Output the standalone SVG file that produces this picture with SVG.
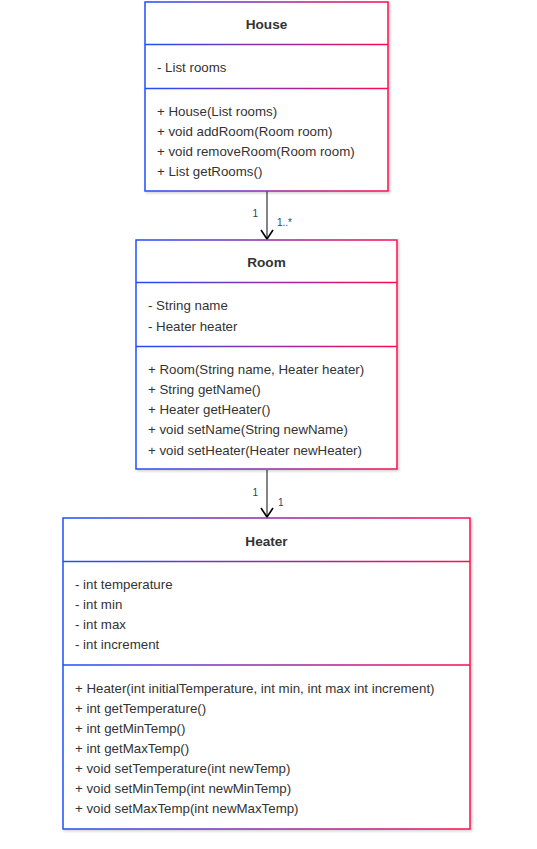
<svg xmlns="http://www.w3.org/2000/svg" width="537" height="849" viewBox="0 0 537 849">
<defs>
<linearGradient id="gHouse" gradientUnits="userSpaceOnUse" x1="145" y1="0" x2="388" y2="0">
<stop offset="0" stop-color="#1e4fff"/><stop offset="1" stop-color="#ff0a50"/>
</linearGradient>
<linearGradient id="gRoom" gradientUnits="userSpaceOnUse" x1="136" y1="0" x2="397" y2="0">
<stop offset="0" stop-color="#1e4fff"/><stop offset="1" stop-color="#ff0a50"/>
</linearGradient>
<linearGradient id="gHeater" gradientUnits="userSpaceOnUse" x1="63" y1="0" x2="470" y2="0">
<stop offset="0" stop-color="#1e4fff"/><stop offset="1" stop-color="#ff0a50"/>
</linearGradient>
<filter id="sh" x="-5%" y="-5%" width="110%" height="110%">
<feDropShadow dx="1.5" dy="1.5" stdDeviation="1.2" flood-color="#000" flood-opacity="0.18"/>
</filter>
<marker id="open" markerWidth="14" markerHeight="14" refX="10" refY="7" orient="auto" markerUnits="userSpaceOnUse" viewBox="0 0 14 14">
<path d="M1,1 L10,7 L1,13" fill="none" stroke="#000" stroke-width="1.6"/>
</marker>
<style>
text{font-family:"Liberation Sans",Arial,Helvetica,sans-serif;font-size:13.3px;fill:#333333}
.t{font-weight:bold;text-anchor:middle;font-size:13.6px}
.lbl{font-size:10px;fill:#2a3f6a}
.box{fill:#ffffff;stroke-width:1.5}
.conn{stroke:#333333;stroke-width:1.2;fill:none}
</style>
</defs>
<rect width="537" height="849" fill="#ffffff"/>

<g id="connectors">
<line class="conn" x1="267" y1="191" x2="267" y2="239" marker-end="url(#open)"/>
<text class="lbl" x="258" y="217" text-anchor="end">1</text>
<text class="lbl" x="277" y="226">1..*</text>
<line class="conn" x1="267" y1="470" x2="267" y2="517" marker-end="url(#open)"/>
<text class="lbl" x="258" y="496" text-anchor="end">1</text>
<text class="lbl" x="278" y="506">1</text>
</g>

<g id="House">
<rect class="box" x="145" y="2" width="243" height="189" stroke="url(#gHouse)" filter="url(#sh)"/>
<line x1="145" y1="44.5" x2="388" y2="44.5" stroke="url(#gHouse)" stroke-width="1.5"/>
<line x1="145" y1="88.5" x2="388" y2="88.5" stroke="url(#gHouse)" stroke-width="1.5"/>
<text class="t" x="266.5" y="29">House</text>
<text x="157" y="72">- List rooms</text>
<text x="157" y="116">+ House(List rooms)</text>
<text x="157" y="136">+ void addRoom(Room room)</text>
<text x="157" y="156">+ void removeRoom(Room room)</text>
<text x="157" y="176">+ List getRooms()</text>
</g>

<g id="Room">
<rect class="box" x="136" y="240" width="261" height="229" stroke="url(#gRoom)" filter="url(#sh)"/>
<line x1="136" y1="282.5" x2="397" y2="282.5" stroke="url(#gRoom)" stroke-width="1.5"/>
<line x1="136" y1="346.5" x2="397" y2="346.5" stroke="url(#gRoom)" stroke-width="1.5"/>
<text class="t" x="266.5" y="267">Room</text>
<text x="148" y="310">- String name</text>
<text x="148" y="331">- Heater heater</text>
<text x="148" y="374">+ Room(String name, Heater heater)</text>
<text x="148" y="394">+ String getName()</text>
<text x="148" y="414">+ Heater getHeater()</text>
<text x="148" y="434">+ void setName(String newName)</text>
<text x="148" y="455">+ void setHeater(Heater newHeater)</text>
</g>

<g id="Heater">
<rect class="box" x="63" y="518" width="407" height="311" stroke="url(#gHeater)" filter="url(#sh)"/>
<line x1="63" y1="561.5" x2="470" y2="561.5" stroke="url(#gHeater)" stroke-width="1.5"/>
<line x1="63" y1="665" x2="470" y2="665" stroke="url(#gHeater)" stroke-width="1.5"/>
<text class="t" x="266.5" y="546">Heater</text>
<text x="75" y="589">- int temperature</text>
<text x="75" y="609">- int min</text>
<text x="75" y="629">- int max</text>
<text x="75" y="649">- int increment</text>
<text x="75" y="693">+ Heater(int initialTemperature, int min, int max int increment)</text>
<text x="75" y="713">+ int getTemperature()</text>
<text x="75" y="733">+ int getMinTemp()</text>
<text x="75" y="753">+ int getMaxTemp()</text>
<text x="75" y="773">+ void setTemperature(int newTemp)</text>
<text x="75" y="793">+ void setMinTemp(int newMinTemp)</text>
<text x="75" y="813">+ void setMaxTemp(int newMaxTemp)</text>
</g>
</svg>
